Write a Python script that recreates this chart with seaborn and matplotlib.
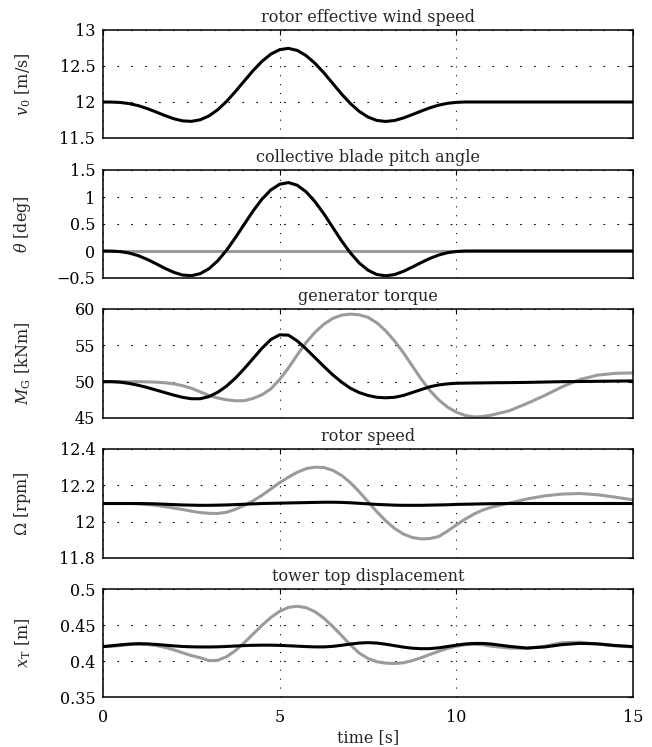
import numpy as np
import pandas as pd
import matplotlib
matplotlib.use("Agg")
import matplotlib.pyplot as plt
import seaborn as sns

# ---------------- data ----------------
time_s = [0, 0.25, 0.5, 0.75, 1.0, 1.25, 1.5, 1.75, 2.0, 2.25, 2.5, 2.75, 3.0, 3.25, 3.5,
          3.75, 4.0, 4.25, 4.5, 4.75, 5.0, 5.25, 5.5, 5.75, 6.0, 6.25, 6.5, 6.75, 7.0,
          7.25, 7.5, 7.75, 8.0, 8.25, 8.5, 8.75, 9.0, 9.25, 9.5, 9.75, 10.0, 10.25, 10.5,
          10.75, 11.0, 11.5, 12.0, 12.5, 13.0, 13.5, 14.0, 14.5, 15.0]

wind_speed = [12.0, 11.999, 11.993, 11.977, 11.949, 11.909, 11.862, 11.812, 11.768, 11.738,
              11.731, 11.753, 11.807, 11.894, 12.010, 12.147, 12.293, 12.437, 12.565, 12.665,
              12.727, 12.745, 12.716, 12.644, 12.537, 12.406, 12.259, 12.112, 11.980, 11.870,
              11.791, 11.744, 11.730, 11.743, 11.778, 11.824, 11.873, 11.919, 11.956, 11.982,
              11.995, 12.0, 12.0, 12.0, 12.0, 12.0, 12.0, 12.0, 12.0, 12.0, 12.0, 12.0, 12.0]

pitch_ctrl = [0.0, -0.002, -0.012, -0.039, -0.087, -0.155, -0.235, -0.320, -0.394, -0.445,
              -0.457, -0.420, -0.328, -0.180, 0.017, 0.250, 0.498, 0.743, 0.961, 1.131,
              1.236, 1.267, 1.217, 1.095, 0.913, 0.690, 0.440, 0.190, -0.034, -0.221,
              -0.355, -0.435, -0.459, -0.437, -0.377, -0.299, -0.216, -0.138, -0.075, -0.031,
              -0.009, 0.0, 0.0, 0.0, 0.0, 0.0, 0.0, 0.0, 0.0, 0.0, 0.0, 0.0, 0.0]
pitch_base = [0.0] * len(time_s)

torque_base = [50.0, 50.0, 50.0, 50.0, 50.0, 49.98, 49.93, 49.85, 49.7, 49.45, 49.1, 48.6,
               48.1, 47.75, 47.5, 47.37, 47.38, 47.7, 48.2, 49.0, 50.3, 51.9, 53.7, 55.4,
               56.8, 57.9, 58.7, 59.15, 59.3, 59.2, 58.85, 58.1, 57.0, 55.6, 54.0, 52.2,
               50.4, 48.8, 47.5, 46.5, 45.8, 45.35, 45.15, 45.2, 45.4,
               46.0, 47.0, 48.1, 49.3, 50.3, 50.9, 51.15, 51.2]
torque_ctrl = [50.0, 50.0, 49.92, 49.75, 49.5, 49.2, 48.85, 48.5, 48.15, 47.85, 47.65, 47.65,
               47.95, 48.55, 49.4, 50.5, 51.8, 53.2, 54.6, 55.8, 56.45, 56.4, 55.6, 54.5,
               53.3, 52.1, 50.95, 49.95, 49.1, 48.5, 48.1, 47.85, 47.78, 47.85, 48.1, 48.5,
               48.9, 49.3, 49.55, 49.7, 49.78, 49.8, 49.82, 49.83, 49.85,
               49.87, 49.9, 49.95, 50.0, 50.02, 50.05, 50.08, 50.1]

speed_base = [12.1, 12.1, 12.1, 12.1, 12.098, 12.095, 12.09, 12.083, 12.075, 12.067, 12.058,
              12.05, 12.046, 12.045, 12.052, 12.068, 12.09, 12.115, 12.145, 12.18, 12.215,
              12.245, 12.272, 12.292, 12.3, 12.298, 12.283, 12.255, 12.215, 12.165, 12.11,
              12.055, 12.005, 11.963, 11.932, 11.913, 11.905, 11.907, 11.918, 11.948, 11.982,
              12.014, 12.042, 12.064, 12.08,
              12.102, 12.125, 12.142, 12.152, 12.155, 12.148, 12.135, 12.12]
speed_ctrl = [12.1, 12.1, 12.1, 12.1, 12.1, 12.099, 12.098, 12.096, 12.094, 12.092, 12.091,
              12.09, 12.09, 12.091, 12.092, 12.094, 12.096, 12.098, 12.1, 12.101, 12.102,
              12.103, 12.104, 12.105, 12.106, 12.107, 12.107, 12.106, 12.104, 12.101, 12.098,
              12.095, 12.093, 12.091, 12.09, 12.09, 12.09, 12.091, 12.092, 12.093, 12.095,
              12.096, 12.097, 12.098, 12.099,
              12.1, 12.1, 12.1, 12.1, 12.1, 12.1, 12.1, 12.1]

tower_base = [0.42, 0.4205, 0.4215, 0.4228, 0.4235, 0.423, 0.4215, 0.419, 0.4155, 0.4115,
              0.4075, 0.4045, 0.4005, 0.401, 0.406, 0.4145, 0.4255, 0.4375, 0.4495, 0.4605,
              0.469, 0.4745, 0.476, 0.474, 0.4685, 0.4595, 0.448, 0.4355, 0.4225, 0.411,
              0.4035, 0.399, 0.397, 0.3965, 0.3975, 0.4005, 0.4045, 0.409, 0.4135, 0.4175,
              0.4205, 0.4225, 0.4232, 0.4225, 0.4205,
              0.418, 0.4175, 0.4205, 0.4255, 0.426, 0.4235, 0.421, 0.4195]
tower_ctrl = [0.42, 0.4212, 0.4225, 0.4235, 0.424, 0.4238, 0.423, 0.422, 0.421, 0.4202,
              0.4197, 0.4195, 0.4195, 0.4197, 0.4202, 0.4208, 0.4214, 0.4218, 0.422, 0.422,
              0.4217, 0.4212, 0.4206, 0.42, 0.4196, 0.4196, 0.4203, 0.4218, 0.4235, 0.4249,
              0.4255, 0.4249, 0.4233, 0.4213, 0.4193, 0.4178, 0.4171, 0.4172, 0.4183, 0.4201,
              0.422, 0.4236, 0.4244, 0.4244, 0.4235,
              0.4203, 0.418, 0.4195, 0.4228, 0.4245, 0.4238, 0.4215, 0.42]

titles = ["rotor effective wind speed", "collective blade pitch angle", "generator torque",
          "rotor speed", "tower top displacement"]
ylabels = [r"$v_0$ [m/s]", r"$\theta$ [deg]", r"$M_\mathrm{G}$ [kNm]", r"$\Omega$ [rpm]",
           r"$x_\mathrm{T}$ [m]"]
yticks = [[11.5, 12, 12.5, 13], [-0.5, 0, 0.5, 1, 1.5], [45, 50, 55, 60],
          [11.8, 12, 12.2, 12.4], [0.35, 0.4, 0.45, 0.5]]
yticklabels = [["11.5", "12", "12.5", "13"], ["\u22120.5", "0", "0.5", "1", "1.5"],
               ["45", "50", "55", "60"], ["11.8", "12", "12.2", "12.4"],
               ["0.35", "0.4", "0.45", "0.5"]]
xticks = [0, 5, 10, 15]
xlabel = "time [s]"

for arr in [wind_speed, pitch_ctrl, torque_base, torque_ctrl, speed_base, speed_ctrl,
            tower_base, tower_ctrl]:
    assert len(arr) == len(time_s), len(arr)

# ---------------- style ----------------
sns.set_theme(style="white")
plt.rcParams["font.family"] = ["DejaVu Serif"]
plt.rcParams["mathtext.fontset"] = "dejavuserif"
FS = 11.5
plt.rcParams["font.size"] = FS

fig = plt.figure(figsize=(6.52, 7.47), dpi=100)
left, right = 103 / 652, 633 / 652
panel_px = [(30, 138), (170, 278), (309, 418), (449, 558), (589, 697)]
axes = []
for top, bot in panel_px:
    ax = fig.add_axes([left, 1 - bot / 747, right - left, (bot - top) / 747])
    axes.append(ax)

gray = "#9b9b9b"
series = [
    [("ctrl", wind_speed)],
    [("base", pitch_base), ("ctrl", pitch_ctrl)],
    [("base", torque_base), ("ctrl", torque_ctrl)],
    [("base", speed_base), ("ctrl", speed_ctrl)],
    [("base", tower_base), ("ctrl", tower_ctrl)],
]

for i, ax in enumerate(axes):
    for name, vals in series[i]:
        df = pd.DataFrame({"t": time_s, "v": vals})
        sns.lineplot(data=df, x="t", y="v", ax=ax, color=("black" if name == "ctrl" else gray),
                     linewidth=2.2, estimator=None, sort=False)
    ax.set_xlim(0, 15)
    ax.set_ylim(yticks[i][0], yticks[i][-1])
    ax.set_yticks(yticks[i])
    ax.set_yticklabels(yticklabels[i])
    ax.set_xticks(xticks)
    ax.set_title(titles[i], fontsize=FS, pad=6)
    ax.set_ylabel(ylabels[i], fontsize=FS)
    ax.set_xlabel("")
    # dotted grid: horizontal lines have wider dot spacing than vertical ones
    ax.yaxis.grid(True, color="black", linestyle=(0, (1.5, 11)), linewidth=0.8)
    ax.xaxis.grid(True, color="black", linestyle=(0, (1, 7)), linewidth=0.8)
    ax.tick_params(axis="both", direction="in", length=3.5, width=0.8, top=True, right=True,
                   labelsize=FS, colors="black")
    ax.tick_params(axis="y", pad=5.5)
    ax.tick_params(axis="x", pad=9)
    for s in ax.spines.values():
        s.set_linewidth(1.1)
        s.set_color("black")
    if i < 4:
        ax.set_xticklabels([])
    else:
        ax.set_xticklabels([str(x) for x in xticks])
        ax.set_xlabel(xlabel, fontsize=FS, labelpad=2)
    ax.yaxis.set_label_coords(-0.132, 0.5)

fig.savefig("out.png", dpi=100)
